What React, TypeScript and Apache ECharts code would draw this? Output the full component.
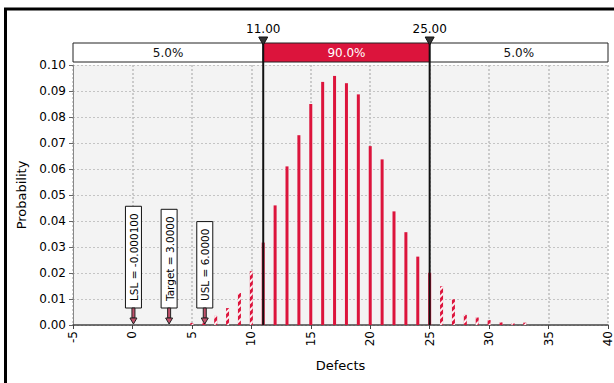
import React, { useEffect, useRef } from "react";
import * as echarts from "echarts";

const defects = [5, 6, 7, 8, 9, 10, 11, 12, 13, 14, 15, 16, 17, 18, 19, 20, 21, 22, 23, 24, 25, 26, 27, 28, 29, 30, 31, 32, 33];
const probabilities = [
  0.0008, 0.0015, 0.0035, 0.0065, 0.0123, 0.0207, 0.0317, 0.046, 0.061, 0.073,
  0.085, 0.0935, 0.0958, 0.093, 0.0887, 0.0688, 0.0637, 0.0437, 0.0357, 0.0263,
  0.0201, 0.0149, 0.0099, 0.0039, 0.0029, 0.0019, 0.001, 0.0008, 0.0009,
];
const xMin = -5;
const xMax = 40;
const xStep = 5;
const yMin = 0;
const yMax = 0.1;
const yStep = 0.01;
const cutValues = [11, 25];
const bandEdges = [-5, 11, 25, 40];
const bandLabels = ["5.0%", "90.0%", "5.0%"];
const specNames = ["LSL", "Target", "USL"];
const specValues = [0, 3, 6];
const specTexts = ["-0.000100", "3.0000", "6.0000"];

const FONT = "DejaVu Sans";
const RED = "#dc143c";

function measure(text: string, font: string): number {
  const c = document.createElement("canvas").getContext("2d");
  if (!c) return text.length * 6;
  c.font = font;
  return c.measureText(text).width;
}

export default function App() {
  const ref = useRef<HTMLDivElement>(null);
  useEffect(() => {
    document.body.style.margin = "0";
    if (!ref.current) return;
    const chart = echarts.init(ref.current, null, { renderer: "svg" });

    const specLabels = specNames.map((n, i) => `${n} = ${specTexts[i]}`);
    const specHeights = specLabels.map((t) => measure(t, `10.5px "${FONT}"`) + 14);

    const barData = defects.map((d, i) => {
      const outside = d < cutValues[0] || d > cutValues[1];
      return {
        value: [d, probabilities[i]],
        itemStyle: outside
          ? {
              color: RED,
              decal: {
                symbol: "rect",
                symbolSize: 1,
                dashArrayX: [1, 0],
                dashArrayY: [1.5, 2.5],
                rotation: -Math.PI / 4,
                color: "rgba(255,255,255,0.95)",
              },
            }
          : { color: RED },
      };
    });

    const option: any = {
      animation: false,
      backgroundColor: "#ffffff",
      textStyle: { fontFamily: FONT },
      graphic: [
        { type: "line", shape: { x1: 4, y1: 9, x2: 614, y2: 9 }, style: { stroke: "#000", lineWidth: 3 } },
        { type: "line", shape: { x1: 5.5, y1: 8, x2: 5.5, y2: 383 }, style: { stroke: "#000", lineWidth: 3 } },
      ],
      grid: {
        left: 73,
        right: 6,
        top: 65,
        bottom: 58,
        show: true,
        backgroundColor: "#f3f3f3",
        borderWidth: 0,
      },
      xAxis: {
        type: "value",
        min: xMin,
        max: xMax,
        interval: xStep,
        name: "Defects",
        nameLocation: "middle",
        nameGap: 34,
        nameTextStyle: { fontSize: 13, color: "#000", fontFamily: FONT },
        axisLine: { show: true, onZero: false, lineStyle: { color: "#444", width: 1.5 } },
        axisTick: { show: true, length: 4, lineStyle: { color: "#444" } },
        axisLabel: { rotate: 90, fontSize: 12, color: "#000", fontFamily: FONT, margin: 6 },
        splitLine: { show: true, lineStyle: { color: "#bdbdbd", type: [2, 2], width: 1.5 } },
      },
      yAxis: {
        type: "value",
        min: yMin,
        max: yMax,
        interval: yStep,
        name: "Probability",
        nameLocation: "middle",
        nameGap: 39,
        nameTextStyle: { fontSize: 13, color: "#000", fontFamily: FONT },
        axisLine: { show: true, onZero: false, lineStyle: { color: "#888" } },
        axisTick: { show: true, length: 4, lineStyle: { color: "#666" } },
        axisLabel: {
          fontSize: 12,
          color: "#000",
          fontFamily: FONT,
          margin: 7,
          formatter: (v: number) => v.toFixed(2),
        },
        splitLine: { show: true, lineStyle: { color: "#c4c4c4", type: [2, 2] } },
      },
      series: [
        {
          type: "bar",
          barWidth: 3,
          data: barData,
          z: 2,
        },
        {
          type: "custom",
          z: 3,
          clip: false,
          encode: { x: [0, 1], y: 2 },
          data: bandLabels.map((_, i) => [bandEdges[i], bandEdges[i + 1], yMax]),
          renderItem: (params: any, api: any) => {
            const i = params.dataIndex;
            const p1 = api.coord([api.value(0), api.value(2)]);
            const p2 = api.coord([api.value(1), api.value(2)]);
            const inner = i === 1;
            return {
              type: "group",
              children: [
                {
                  type: "rect",
                  shape: { x: p1[0], y: p1[1] - 22, width: p2[0] - p1[0], height: 19 },
                  style: { fill: inner ? RED : "#fff", stroke: "#222", lineWidth: 1 },
                },
                {
                  type: "text",
                  x: (p1[0] + p2[0]) / 2,
                  y: p1[1] - 12.5,
                  style: {
                    text: bandLabels[i],
                    align: "center",
                    verticalAlign: "middle",
                    fill: inner ? "#fff" : "#111",
                    fontSize: 12,
                    fontFamily: FONT,
                  },
                },
              ],
            };
          },
        },
        {
          type: "custom",
          z: 5,
          clip: false,
          encode: { x: 0, y: 1 },
          data: cutValues.map((v) => [v, yMin]),
          renderItem: (params: any, api: any) => {
            const v = api.value(0);
            const base = api.coord([v, yMin]);
            const top = api.coord([v, yMax]);
            const x = base[0];
            return {
              type: "group",
              children: [
                {
                  type: "line",
                  shape: { x1: x, y1: top[1] - 26, x2: x, y2: base[1] },
                  style: { stroke: "#111", lineWidth: 2 },
                },
                {
                  type: "polygon",
                  shape: { points: [[x - 4.5, top[1] - 28], [x + 4.5, top[1] - 28], [x, top[1] - 20]] },
                  style: { fill: "#333", stroke: "#111", lineWidth: 1 },
                },
                {
                  type: "text",
                  x: x,
                  y: top[1] - 30,
                  style: {
                    text: v.toFixed(2),
                    align: "center",
                    verticalAlign: "bottom",
                    fill: "#000",
                    fontSize: 12,
                    fontFamily: FONT,
                  },
                },
              ],
            };
          },
        },
        {
          type: "custom",
          z: 6,
          clip: false,
          encode: { x: 0, y: 1 },
          data: specValues.map((v) => [v, yMin]),
          renderItem: (params: any, api: any) => {
            const i = params.dataIndex;
            const p = api.coord([api.value(0), yMin]);
            const cx = p[0] + 1;
            const base = p[1];
            const h = specHeights[i];
            const boxBottom = base - 17;
            const boxTop = boxBottom - h;
            return {
              type: "group",
              children: [
                {
                  type: "rect",
                  shape: { x: cx - 8, y: boxTop, width: 16, height: h },
                  style: { fill: "#fff", stroke: "#111", lineWidth: 1 },
                },
                {
                  type: "text",
                  x: cx + 0.5,
                  y: boxTop + h / 2,
                  rotation: Math.PI / 2,
                  style: {
                    text: specLabels[i],
                    align: "center",
                    verticalAlign: "middle",
                    fill: "#000",
                    fontSize: 10.5,
                    fontFamily: FONT,
                  },
                },
                {
                  type: "rect",
                  shape: { x: cx - 1.5, y: boxBottom, width: 3, height: 10 },
                  style: { fill: "#c2506b", stroke: "#222", lineWidth: 1 },
                },
                {
                  type: "polygon",
                  shape: { points: [[cx - 3.5, boxBottom + 10], [cx + 3.5, boxBottom + 10], [cx, base - 1]] },
                  style: { fill: "#c2506b", stroke: "#222", lineWidth: 1 },
                },
              ],
            };
          },
        },
      ],
    };
    chart.setOption(option);
    return () => chart.dispose();
  }, []);
  return <div ref={ref} style={{ width: 614, height: 383, position: "absolute", left: 0, top: 0 }} />;
}
